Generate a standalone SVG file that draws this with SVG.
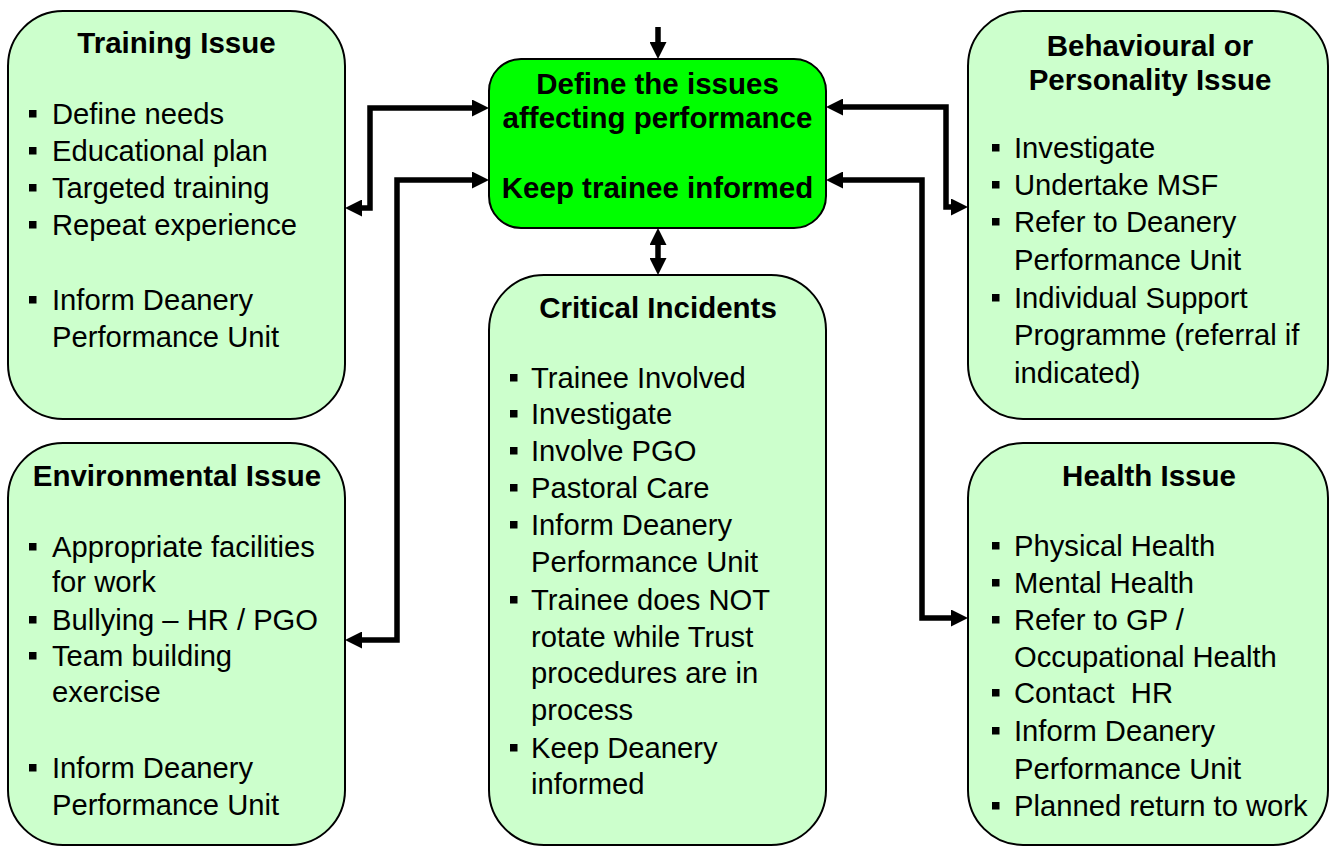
<svg xmlns="http://www.w3.org/2000/svg" width="1333" height="846" viewBox="0 0 1333 846">
<style>
.box{fill:#CCFFCC;stroke:#000;stroke-width:2}
.main{fill:#00FF00;stroke:#000;stroke-width:2}
text{font-family:"Liberation Sans",Arial,sans-serif;font-size:29.2px;fill:#000}
.t{font-weight:bold;text-anchor:middle;font-size:29.5px}
.b{fill:#000}
.c{fill:none;stroke:#000;stroke-width:5.5;stroke-linejoin:miter}
</style>
<defs>
<marker id="ah" viewBox="0 0 17 17" markerWidth="17" markerHeight="17" refX="0" refY="8.5" markerUnits="userSpaceOnUse" orient="auto-start-reverse">
<path d="M0,0 L17,8.5 L0,17 z" fill="#000"/>
</marker>
<rect id="bul" width="7.5" height="7.5" class="b"/>
</defs>
<g id="connectors">
<path class="c" d="M658 27 V42" marker-end="url(#ah)"/>
<path class="c" d="M658 245 V258" marker-start="url(#ah)" marker-end="url(#ah)"/>
<path class="c" d="M472 108 H370 V208 H362" marker-start="url(#ah)" marker-end="url(#ah)"/>
<path class="c" d="M472 180 H397 V640 H362" marker-start="url(#ah)" marker-end="url(#ah)"/>
<path class="c" d="M843 107 H946 V207 H951" marker-start="url(#ah)" marker-end="url(#ah)"/>
<path class="c" d="M843 180 H922 V618 H951" marker-start="url(#ah)" marker-end="url(#ah)"/>
</g>
<g id="center">
<rect class="main" x="489" y="59" width="337" height="169" rx="32" ry="32"/>
<text class="t" x="657.5" y="94">Define the issues</text>
<text class="t" x="657.5" y="128">affecting performance</text>
<text class="t" x="657.5" y="198">Keep trainee informed</text>
</g>
<g id="training">
<rect class="box" x="8" y="11" width="337" height="408" rx="55" ry="55"/>
<text class="t" x="176.5" y="53">Training Issue</text>
<use href="#bul" x="29" y="110"/><text x="52" y="124">Define needs</text>
<use href="#bul" x="29" y="147"/><text x="52" y="161">Educational plan</text>
<use href="#bul" x="29" y="184"/><text x="52" y="198">Targeted training</text>
<use href="#bul" x="29" y="221"/><text x="52" y="235">Repeat experience</text>
<use href="#bul" x="29" y="296"/><text x="52" y="310">Inform Deanery</text>
<text x="52" y="347">Performance Unit</text>
</g>
<g id="environmental">
<rect class="box" x="8" y="443" width="337" height="402" rx="55" ry="55"/>
<text class="t" x="177" y="486">Environmental Issue</text>
<use href="#bul" x="29" y="543"/><text x="52" y="557">Appropriate facilities</text>
<text x="52" y="592">for work</text>
<use href="#bul" x="29" y="616"/><text x="52" y="630">Bullying – HR / PGO</text>
<use href="#bul" x="29" y="652"/><text x="52" y="666">Team building</text>
<text x="52" y="702">exercise</text>
<use href="#bul" x="29" y="764"/><text x="52" y="778">Inform Deanery</text>
<text x="52" y="815">Performance Unit</text>
</g>
<g id="critical">
<rect class="box" x="489" y="275" width="337" height="570" rx="55" ry="55"/>
<text class="t" x="658" y="318">Critical Incidents</text>
<use href="#bul" x="510" y="374"/><text x="531" y="388">Trainee Involved</text>
<use href="#bul" x="510" y="410"/><text x="531" y="424">Investigate</text>
<use href="#bul" x="510" y="447"/><text x="531" y="461">Involve PGO</text>
<use href="#bul" x="510" y="484"/><text x="531" y="498">Pastoral Care</text>
<use href="#bul" x="510" y="521"/><text x="531" y="535">Inform Deanery</text>
<text x="531" y="572">Performance Unit</text>
<use href="#bul" x="510" y="596"/><text x="531" y="610">Trainee does NOT</text>
<text x="531" y="647">rotate while Trust</text>
<text x="531" y="683">procedures are in</text>
<text x="531" y="720">process</text>
<use href="#bul" x="510" y="744"/><text x="531" y="758">Keep Deanery</text>
<text x="531" y="794">informed</text>
</g>
<g id="behavioural">
<rect class="box" x="968" y="11" width="360" height="408" rx="55" ry="55"/>
<text class="t" x="1150" y="56">Behavioural or</text>
<text class="t" x="1150" y="90">Personality Issue</text>
<use href="#bul" x="992" y="144"/><text x="1014" y="158">Investigate</text>
<use href="#bul" x="992" y="181"/><text x="1014" y="195">Undertake MSF</text>
<use href="#bul" x="992" y="218"/><text x="1014" y="232">Refer to Deanery</text>
<text x="1014" y="270">Performance Unit</text>
<use href="#bul" x="992" y="294"/><text x="1014" y="308">Individual Support</text>
<text x="1014" y="345">Programme (referral if</text>
<text x="1014" y="383">indicated)</text>
</g>
<g id="health">
<rect class="box" x="968" y="443" width="360" height="402" rx="55" ry="55"/>
<text class="t" x="1149" y="486">Health Issue</text>
<use href="#bul" x="992" y="542"/><text x="1014" y="556">Physical Health</text>
<use href="#bul" x="992" y="579"/><text x="1014" y="593">Mental Health</text>
<use href="#bul" x="992" y="616"/><text x="1014" y="630">Refer to GP /</text>
<text x="1014" y="667">Occupational Health</text>
<use href="#bul" x="992" y="689"/><text x="1014" y="703" xml:space="preserve">Contact  HR</text>
<use href="#bul" x="992" y="727"/><text x="1014" y="741">Inform Deanery</text>
<text x="1014" y="779">Performance Unit</text>
<use href="#bul" x="992" y="802"/><text x="1014" y="816">Planned return to work</text>
</g>
</svg>
